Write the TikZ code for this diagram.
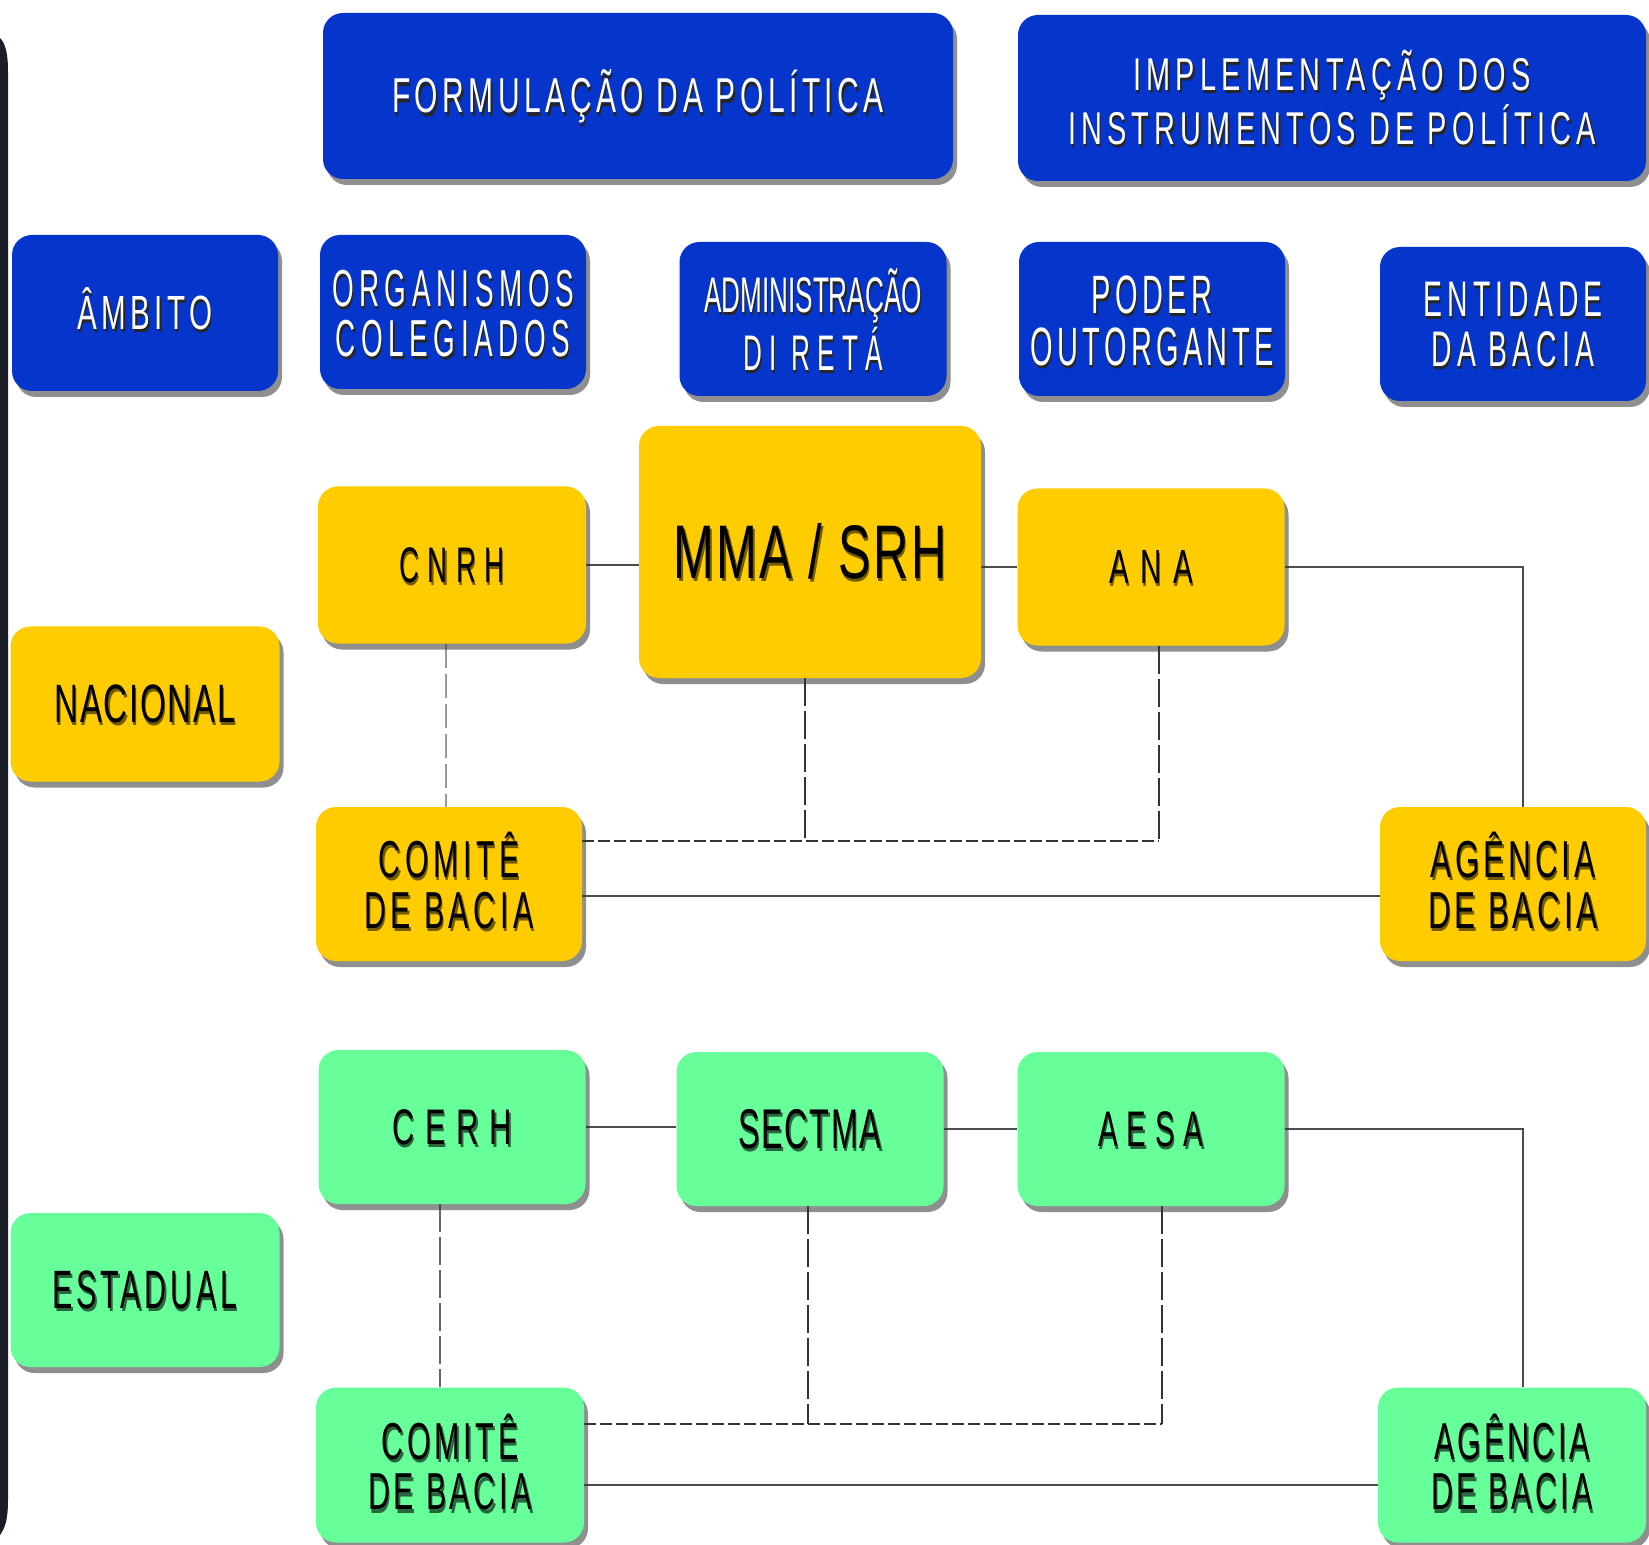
\documentclass[tikz,border=0pt]{standalone}
\usepackage{fontspec}
\setmainfont{Liberation Sans}
\usepackage{graphicx}
\usetikzlibrary{shadows}
\pgfdeclarelayer{bg}
\pgfsetlayers{bg,main}
\definecolor{bluebox}{HTML}{0535CB}
\definecolor{yellowbox}{HTML}{FFCC00}
\definecolor{greenbox}{HTML}{66FF99}
\definecolor{edgecol}{HTML}{1B1E26}
\colorlet{yshcol}{black!55!yellowbox}
\colorlet{gshcol}{black!60!greenbox}
\newcommand\shcolor{black}
\newcommand\sh[1]{\rlap{\kern1.2pt\raisebox{-1.6pt}{\color{\shcolor}#1}}#1}
% #1 width, #2 font size, #3 baselineskip, #4 letterspace, #5 number of lines, #6 lines
\newcommand\tx[6]{\pgfmathsetmacro\txdy{((#5-1)*#3-0.688*#2)/2}%
\raisebox{\txdy pt}[0pt][0pt]{\resizebox{#1pt}{\height}{\fontsize{#2pt}{#3pt}\selectfont\addfontfeature{LetterSpace=#4}\begin{tabular}[t]{@{}c@{}}#6\end{tabular}}}}
\tikzset{
  box/.style={rounded corners=10pt, inner sep=0pt,
    drop shadow={shadow xshift=2pt, shadow yshift=-3pt, fill=black!80, opacity=0.55}},
  bluebx/.style={box, fill=bluebox, font=\color{white}\renewcommand\shcolor{black!85}},
  yelbx/.style={box, fill=yellowbox, font=\color{black}\renewcommand\shcolor{yshcol}},
  grnbx/.style={box, fill=greenbox, font=\color{black}\renewcommand\shcolor{gshcol}},
  conn/.style={draw=black!70, line width=0.8pt},
  dconn/.style={draw=black!80, line width=0.8pt, dash pattern=on 6pt off 2pt},
  vdash/.style={draw=black!80, line width=0.7pt, dash pattern=on 14pt off 2.5pt},
  fconn/.style={draw=black!40, line width=0.6pt, dash pattern=on 12pt off 3pt}
}
\begin{document}
\begin{tikzpicture}[x=0.5pt,y=-0.5pt]
\begin{pgfonlayer}{bg}
\fill[white] (0,0) rectangle (1649,1545);
\end{pgfonlayer}
\useasboundingbox (0,0) rectangle (1649,1545);
\fill[edgecol] (0,38) .. controls (6,44) and (8,55) .. (8,72) -- (8,1500) .. controls (8,1520) and (5,1528) .. (0,1535) -- cycle;

% header row
\node[bluebx, minimum width=315pt, minimum height=83pt] (form) at (638,96)
  {\tx{246}{24.5}{24}{15}{1}{\sh{FORMULAÇÃO DA POLÍTICA}}};
\node[bluebx, minimum width=314pt, minimum height=83pt] (impl) at (1332,98)
  {\tx{264}{23}{23.5}{18}{2}{\sh{IMPLEMENTAÇÃO DOS}\\\sh{INSTRUMENTOS DE POLÍTICA}}};

% second row
\node[bluebx, minimum width=133pt, minimum height=78pt] (ambito) at (145,313)
  {\tx{67.5}{24}{24}{15}{1}{\sh{ÂMBITO}}};
\node[bluebx, minimum width=133pt, minimum height=77pt] (org) at (453,312)
  {\tx{121}{26}{23.5}{20}{2}{\sh{ORGANISMOS}\\\sh{COLEGIADOS}}};
\node[bluebx, minimum width=133.5pt, minimum height=77pt] (adm) at (813,319)
  {\tx{109}{25}{23.5}{0}{2}{\sh{ADMINISTRAÇÃO}\\\addfontfeature{LetterSpace=28}\sh{DI RETÁ}}};
\node[bluebx, minimum width=133pt, minimum height=77pt] (poder) at (1152,319)
  {\tx{121.5}{27}{24.5}{15}{2}{\sh{PODER}\\\sh{OUTORGANTE}}};
\node[bluebx, minimum width=133pt, minimum height=77pt] (entidade) at (1513,324)
  {\tx{89.5}{25}{25}{18}{2}{\sh{ENTIDADE}\\\sh{DA BACIA}}};

% nacional
\node[yelbx, minimum width=134pt, minimum height=78.5pt] (cnrh) at (452,565)
  {\tx{52.5}{25}{25}{30}{1}{\sh{CNRH}}};
\node[yelbx, minimum width=171pt, minimum height=126pt] (mma) at (810,552)
  {\tx{136.5}{38}{38}{5}{1}{\sh{MMA / SRH}}};
\node[yelbx, minimum width=133.5pt, minimum height=78.5pt] (ana) at (1151,567)
  {\tx{42}{24}{24}{40}{1}{\sh{ANA}}};
\node[yelbx, minimum width=134.5pt, minimum height=77.5pt] (nacional) at (145,704)
  {\tx{90.5}{27}{27}{5}{1}{\sh{NACIONAL}}};
\node[yelbx, minimum width=133pt, minimum height=77pt] (comn) at (449,884)
  {\tx{84.5}{26}{24.5}{15}{2}{\sh{COMITÊ}\\\sh{DE BACIA}}};
\node[yelbx, minimum width=133pt, minimum height=77pt] (agn) at (1513,884)
  {\tx{85}{26}{24.5}{12}{2}{\sh{AGÊNCIA}\\\sh{DE BACIA}}};

% estadual
\node[grnbx, minimum width=133.5pt, minimum height=77pt] (cerh) at (452,1127)
  {\tx{60}{25}{25}{35}{1}{\sh{CERH}}};
\node[grnbx, minimum width=133.5pt, minimum height=77pt] (sectma) at (810,1129)
  {\tx{71.5}{28}{28}{5}{1}{\sh{SECTMA}}};
\node[grnbx, minimum width=133.5pt, minimum height=77pt] (aesa) at (1151,1129)
  {\tx{52.5}{25}{25}{30}{1}{\sh{AESA}}};
\node[grnbx, minimum width=134.5pt, minimum height=77pt] (estadual) at (145,1290)
  {\tx{92}{27}{27}{12}{1}{\sh{ESTADUAL}}};
\node[grnbx, minimum width=134pt, minimum height=77.5pt] (come) at (450,1465)
  {\tx{82}{26}{23.5}{12}{2}{\sh{COMITÊ}\\\sh{DE BACIA}}};
\node[grnbx, minimum width=134pt, minimum height=77.5pt] (age) at (1512,1465)
  {\tx{80.5}{26}{23.5}{10}{2}{\sh{AGÊNCIA}\\\sh{DE BACIA}}};

\begin{pgfonlayer}{bg}
% nacional connectors
\draw[conn] (cnrh.east) -- (cnrh.east -| mma.west);
\draw[conn] (ana.west -| mma.east) -- (ana.west);
\coordinate (nr) at ([xshift=5pt]agn.north);
\draw[conn] (ana.east) -| (nr);
\coordinate (c1) at ([xshift=-3pt]cnrh.south);
\draw[fconn] (c1) -- (c1 |- comn.north);
\coordinate (nbus) at ([yshift=21.5pt]comn.east);
\coordinate (anab) at ([xshift=4pt]ana.south);
\coordinate (mmab) at ([xshift=-2.5pt]mma.south);
\draw[dconn] (nbus) -- (nbus -| anab);
\draw[vdash] (anab) -- (anab |- nbus);
\draw[vdash] (mmab) -- (mmab |- nbus);
\coordinate (nsol) at ([yshift=-6pt]comn.east);
\draw[conn] (nsol) -- (nsol -| agn.west);
% estadual connectors
\draw[conn] (cerh.east) -- (cerh.east -| sectma.west);
\draw[conn] (sectma.east) -- (sectma.east -| aesa.west);
\coordinate (sr) at ([xshift=5.5pt]age.north);
\draw[conn] (aesa.east) -| (sr);
\coordinate (c2) at ([xshift=-6pt]cerh.south);
\draw[vdash, draw=black!60] (c2) -- (c2 |- come.north);
\coordinate (sbus) at ([yshift=20.5pt]come.east);
\coordinate (aesab) at ([xshift=5.5pt]aesa.south);
\coordinate (sectb) at ([xshift=-1pt]sectma.south);
\draw[dconn] (sbus) -- (sbus -| aesab);
\draw[vdash] (aesab) -- (aesab |- sbus);
\draw[vdash] (sectb) -- (sectb |- sbus);
\coordinate (ssol) at ([yshift=-10pt]come.east);
\draw[conn] (ssol) -- (ssol -| age.west);
\end{pgfonlayer}
\end{tikzpicture}
\end{document}
